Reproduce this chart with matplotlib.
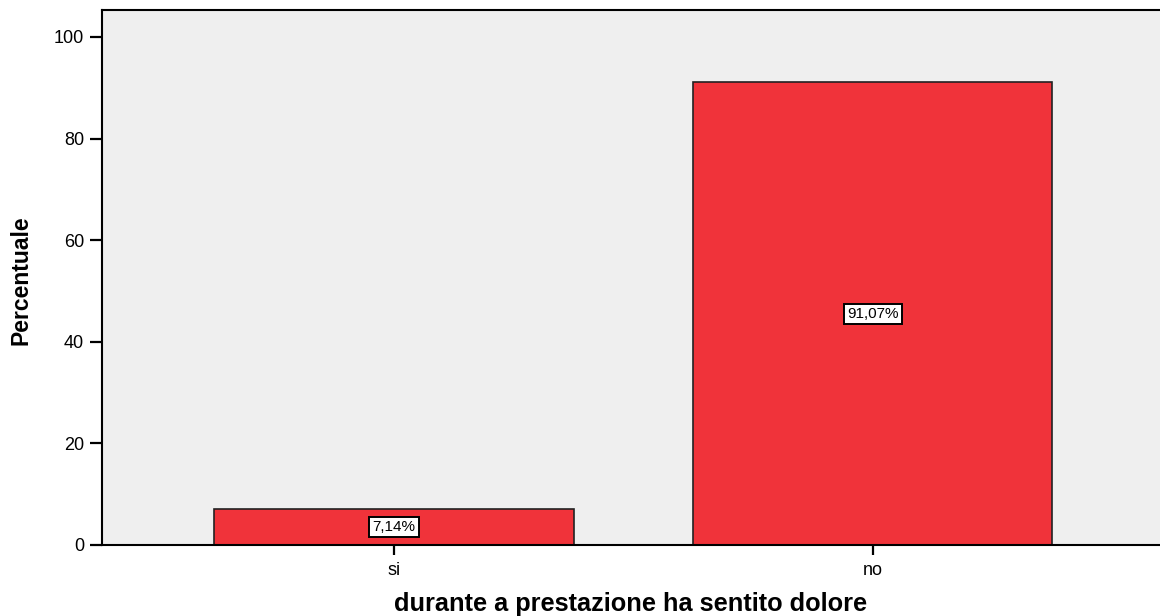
import matplotlib
matplotlib.use("Agg")
import matplotlib.pyplot as plt

# data
categories = ["si", "no"]
percentages = [7.14, 91.07]
labels = ["7,14%", "91,07%"]

plt.rcParams['font.family'] = ['Liberation Sans', 'DejaVu Sans']

fig = plt.figure(figsize=(11.6, 6.16), dpi=100)
ax = fig.add_axes([0.0879, 0.1153, 0.9121, 0.8685])
ax.set_facecolor('#efefef')

x = range(len(categories))
bars = ax.bar(x, percentages, width=0.75, color='#f0333a', edgecolor='#222222', linewidth=1.2)

for i, b in enumerate(bars):
    ax.text(b.get_x() + b.get_width() / 2, b.get_height() / 2, labels[i],
            ha='center', va='center', fontsize=11,
            bbox=dict(boxstyle='square,pad=0.2', facecolor='white', edgecolor='black', linewidth=1.4))

ax.set_xlim(-0.61, 1.6)
ax.set_ylim(0, 105.3)
ax.set_yticks([0, 20, 40, 60, 80, 100])
ax.set_xticks(list(x))
ax.set_xticklabels(categories)
ax.tick_params(axis='y', direction='out', length=8.5, width=1.6, labelsize=13, pad=4.5)
ax.tick_params(axis='x', direction='out', length=7, width=1.6, labelsize=13, pad=5)

ax.spines['right'].set_visible(False)
for s in ['left', 'bottom', 'top']:
    ax.spines[s].set_linewidth(1.5)

ax.set_ylabel("Percentuale", fontsize=16.5, fontweight='bold')
ax.yaxis.set_label_coords(-0.066, 0.495)
ax.set_xlabel("durante a prestazione ha sentito dolore", fontsize=18.3, fontweight='bold')
ax.xaxis.set_label_coords(0.5, -0.087)

fig.savefig("out.png", dpi=100)
